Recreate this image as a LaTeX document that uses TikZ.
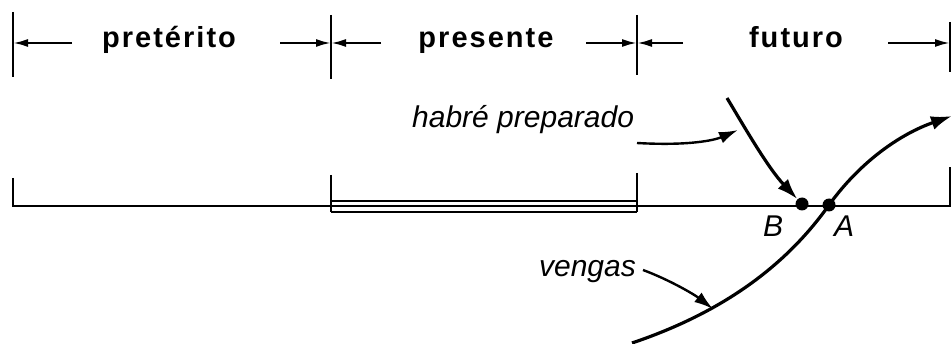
\documentclass[tikz,border=0pt]{standalone}
\usepackage{fontspec}
\setmainfont{Liberation Sans}
\newfontfamily\lblfont{Liberation Sans}[LetterSpace=7]
\usetikzlibrary{arrows.meta}
\begin{document}
\begin{tikzpicture}[x=1pt,y=-1pt,
  tick/.style={line width=2.2pt},
  dimarrow/.style={line width=2.2pt,-{Latex[length=15pt,width=8pt]}},
  curvearrow/.style={line width=3.2pt,-{Latex[length=21pt,width=14pt]}},
  thinarrow/.style={line width=2.4pt,-{Latex[length=19pt,width=12pt]}},
  period/.style={font=\lblfont\bfseries\fontsize{29}{34}\selectfont,inner sep=0pt,anchor=base},
  itlabel/.style={font=\itshape\fontsize{30}{36}\selectfont,inner sep=0pt},
  dot/.style={circle,fill=black,inner sep=0pt,minimum size=13pt}]
\useasboundingbox (0,0) rectangle (952,344);
% top ticks
\coordinate (t0) at (13,43);
\coordinate (t1) at (331,43);
\coordinate (t2) at (637,43);
\coordinate (t3) at (950,43);
\draw[tick] (13,12) -- (13,77);
\draw[tick] (331,15) -- (331,79);
\draw[tick] (637,15) -- (637,75);
\draw[tick] (950,22) -- (950,72);
% period labels
\node[period] (pret) at (169,48) {pretérito};
\node[period] (pres) at (486,48) {presente};
\node[period] (fut) at (796,48) {futuro};
% dimension arrows
\coordinate (a1) at (72,43);
\coordinate (a2) at (280,43);
\coordinate (a3) at (381,43);
\coordinate (a4) at (586,43);
\coordinate (a5) at (683,43);
\coordinate (a6) at (888,43);
\draw[dimarrow] (a1) -- (t0);
\draw[dimarrow] (a2) -- (t1);
\draw[dimarrow] (a3) -- (t1);
\draw[dimarrow] (a4) -- (t2);
\draw[dimarrow] (a5) -- (t2);
\draw[dimarrow] (a6) -- (t3);
% time line
\draw[tick] (13,178) -- (13,206) -- (950,206) -- (950,167);
\draw[tick] (331,175) -- (331,212);
\draw[tick] (637,173) -- (637,212);
\draw[line width=1.8pt] (331,201) -- (637,201);
\draw[line width=1.8pt] (331,212) -- (637,212);
% points
\node[dot] (B) at (802,204) {};
\node[dot] (A) at (829,205) {};
\node[itlabel,anchor=base] (Blbl) at (773,237) {B};
\node[itlabel,anchor=base] (Albl) at (844,237) {A};
% habré preparado
\node[itlabel,anchor=base west] (hab) at (412,128) {habré preparado};
\coordinate (h1) at (637,143);
\coordinate (h2) at (738,130);
\draw[thinarrow] (h1) .. controls (690,146) and (715,140) .. (h2);
\coordinate (h3) at (727,98);
\draw[curvearrow] (h3) .. controls (745,128) and (768,168) .. (B);
% vengas
\node[itlabel,anchor=base east] (ven) at (636,277) {vengas};
\coordinate (v1) at (643,270);
\coordinate (v2) at (713,309);
\draw[thinarrow] (v1) .. controls (670,280) and (695,295) .. (v2);
% big curve
\coordinate (c0) at (632,343);
\coordinate (c1) at (952,116);
\draw[curvearrow] (c0) .. controls (730,310) and (790,260) .. (A.center) .. controls (860,162) and (900,134) .. (c1);
\end{tikzpicture}
\end{document}
